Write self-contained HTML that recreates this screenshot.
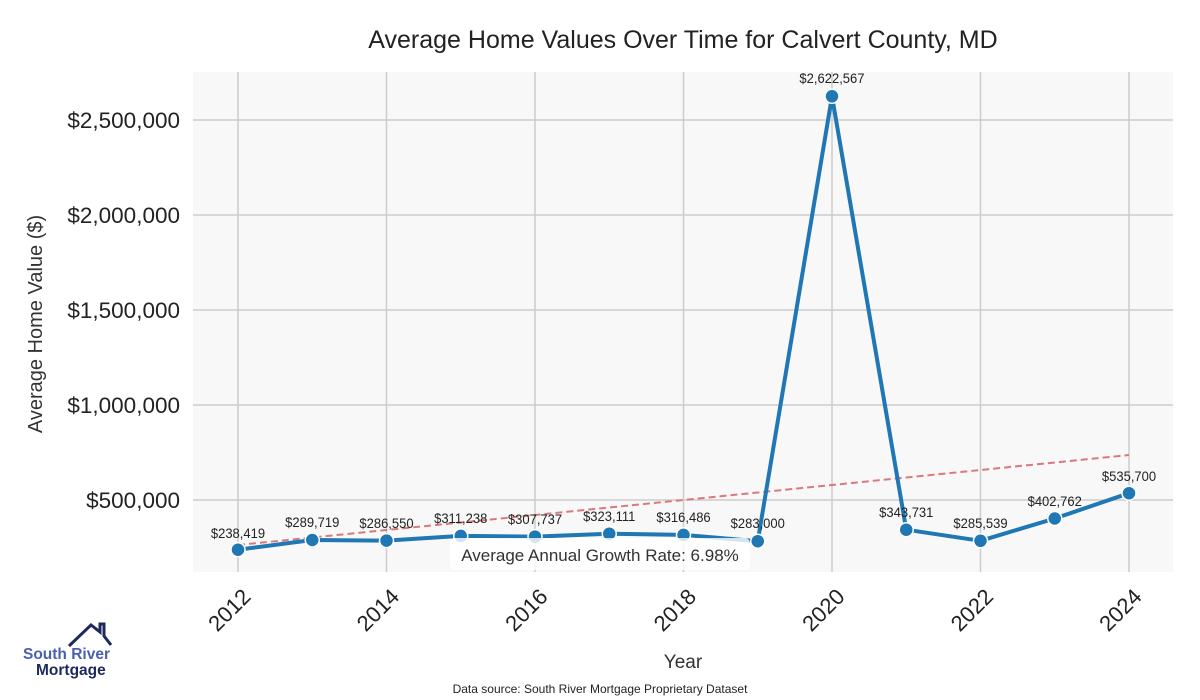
<!DOCTYPE html>
<html><head><style>body{margin:0;background:#fff}svg{display:block}</style></head><body>
<svg width="1200" height="700" xmlns="http://www.w3.org/2000/svg" font-family="Liberation Sans, sans-serif">
<rect x="193" y="72" width="980" height="500" fill="#f8f8f8"/>
<g stroke="#cccccc" stroke-width="1.5">
<line x1="238" y1="72" x2="238" y2="572"/><line x1="386.5" y1="72" x2="386.5" y2="572"/><line x1="535" y1="72" x2="535" y2="572"/><line x1="683.5" y1="72" x2="683.5" y2="572"/><line x1="832" y1="72" x2="832" y2="572"/><line x1="980.5" y1="72" x2="980.5" y2="572"/><line x1="1129" y1="72" x2="1129" y2="572"/>
<line x1="193" y1="120" x2="1173" y2="120"/><line x1="193" y1="215" x2="1173" y2="215"/><line x1="193" y1="310" x2="1173" y2="310"/><line x1="193" y1="405" x2="1173" y2="405"/><line x1="193" y1="500" x2="1173" y2="500"/>
</g>
<line x1="238" y1="545" x2="1129" y2="455" stroke="#d9797b" stroke-width="2" stroke-dasharray="7,4"/>
<polyline fill="none" stroke="#1f77b4" stroke-width="4" stroke-linejoin="round" points="238,549.7 312.25,540 386.5,540.6 460.75,535.9 535,536.6 609.25,533.7 683.5,534.9 757.75,541.2 832,96.3 906.25,529.7 980.5,540.8 1054.75,518.5 1129,493.2"/>
<g fill="#1f77b4" stroke="#fff" stroke-width="1.5">
<circle cx="238" cy="549.7" r="7"/><circle cx="312.25" cy="540" r="7"/><circle cx="386.5" cy="540.6" r="7"/><circle cx="460.75" cy="535.9" r="7"/><circle cx="535" cy="536.6" r="7"/><circle cx="609.25" cy="533.7" r="7"/><circle cx="683.5" cy="534.9" r="7"/><circle cx="757.75" cy="541.2" r="7"/><circle cx="832" cy="96.3" r="7"/><circle cx="906.25" cy="529.7" r="7"/><circle cx="980.5" cy="540.8" r="7"/><circle cx="1054.75" cy="518.5" r="7"/><circle cx="1129" cy="493.2" r="7"/>
</g>
<g font-size="14" fill="#222" text-anchor="middle" transform="scale(0.93,1)">
<text x="255.9" y="538">$238,419</text><text x="335.75" y="527">$289,719</text><text x="415.6" y="528">$286,550</text><text x="495.4" y="523">$311,238</text><text x="575.3" y="524">$307,737</text><text x="655.1" y="521">$323,111</text><text x="735" y="522">$316,486</text><text x="814.8" y="528">$283,000</text><text x="894.6" y="83">$2,622,567</text><text x="974.5" y="517">$343,731</text><text x="1054.3" y="528">$285,539</text><text x="1134.1" y="506">$402,762</text><text x="1214" y="481">$535,700</text>
</g>
<rect x="450" y="538" width="300" height="32" rx="5" fill="#fff" fill-opacity="0.8"/>
<text x="600" y="561" font-size="17" fill="#333" text-anchor="middle">Average Annual Growth Rate: 6.98%</text>
<g font-size="22.5" fill="#222" text-anchor="end">
<text x="180" y="128">$2,500,000</text><text x="180" y="223">$2,000,000</text><text x="180" y="318">$1,500,000</text><text x="180" y="413">$1,000,000</text><text x="180" y="508">$500,000</text>
</g>
<g font-size="22" fill="#222" text-anchor="end">
<text transform="translate(252,598) rotate(-45)">2012</text><text transform="translate(400.5,598) rotate(-45)">2014</text><text transform="translate(549,598) rotate(-45)">2016</text><text transform="translate(697.5,598) rotate(-45)">2018</text><text transform="translate(846,598) rotate(-45)">2020</text><text transform="translate(994.5,598) rotate(-45)">2022</text><text transform="translate(1143,598) rotate(-45)">2024</text>
</g>
<text x="683" y="668" font-size="19" fill="#333" text-anchor="middle">Year</text>
<text transform="translate(42,324) rotate(-90)" font-size="20" fill="#333" text-anchor="middle">Average Home Value ($)</text>
<text x="683" y="48" font-size="25" fill="#222" text-anchor="middle">Average Home Values Over Time for Calvert County, MD</text>
<text x="600" y="693" font-size="12" fill="#222" text-anchor="middle">Data source: South River Mortgage Proprietary Dataset</text>
<polyline points="69,646 91,625 100,632 100,624 104,624 104,636 111,645" fill="none" stroke="#1e2a5e" stroke-width="3"/>
<text x="23" y="659" font-size="15.5" font-weight="bold" fill="#4a5fb0">South River</text>
<text x="36" y="675" font-size="15.5" font-weight="bold" fill="#1e2a5e">Mortgage</text>
</svg>
</body></html>
